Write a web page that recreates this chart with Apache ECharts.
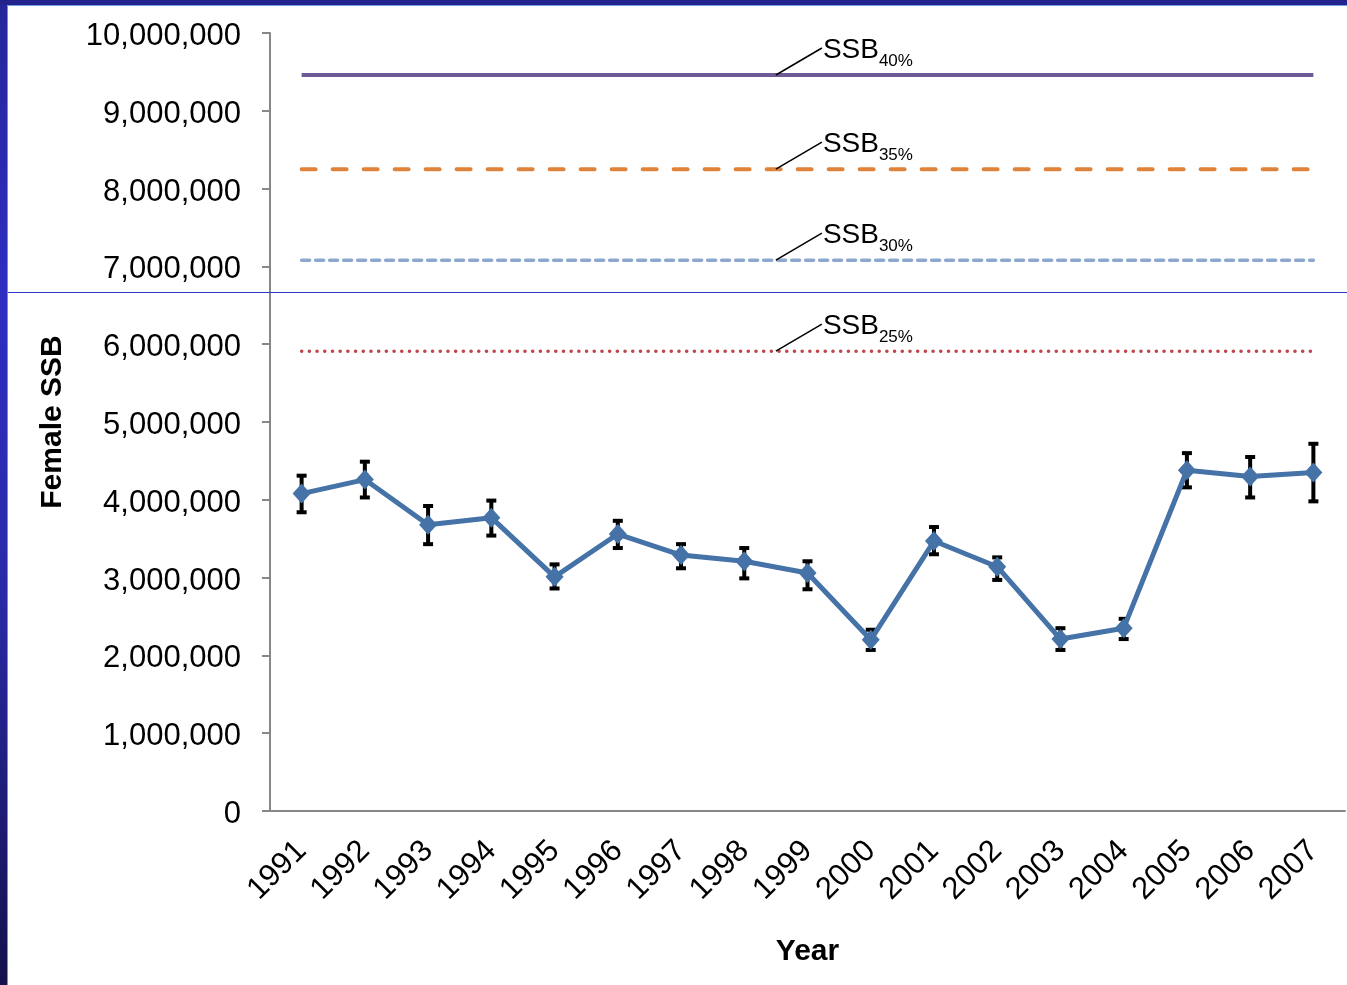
<!DOCTYPE html>
<html>
<head>
<meta charset="utf-8">
<script src="https://cdn.jsdelivr.net/npm/echarts@6/dist/echarts.min.js"></script>
<style>
html,body{margin:0;padding:0;background:#fff;}
#chart{width:1347px;height:985px;}
</style>
</head>
<body>
<div id="chart"></div>
<script>
const years = ['1991','1992','1993','1994','1995','1996','1997','1998','1999','2000','2001','2002','2003','2004','2005','2006','2007'];
const femaleSSB = [4080000, 4260000, 3680000, 3770000, 3010000, 3560000, 3290000, 3210000, 3060000, 2200000, 3470000, 3140000, 2210000, 2350000, 4380000, 4300000, 4350000];
const upperCI = [4310000, 4490000, 3920000, 3990000, 3170000, 3730000, 3430000, 3380000, 3210000, 2330000, 3650000, 3260000, 2350000, 2470000, 4600000, 4550000, 4720000];
const lowerCI = [3840000, 4030000, 3430000, 3540000, 2860000, 3380000, 3120000, 2990000, 2850000, 2070000, 3300000, 2970000, 2070000, 2210000, 4160000, 4030000, 3980000];
const refNames = ['40%', '35%', '30%', '25%'];
const refLevels = [9460000, 8250000, 7080000, 5910000];
const yTicks = [0, 1000000, 2000000, 3000000, 4000000, 5000000, 6000000, 7000000, 8000000, 9000000, 10000000];

const FONT = '"Liberation Sans", Arial, sans-serif';
const refStyles = [
  {color:'#6d5a97', width:4, type:'solid', cap:'butt'},
  {color:'#e0833a', width:4, type:[14,17], cap:'round'},
  {color:'#8ea7cf', width:3.5, type:[8,6], cap:'round'},
  {color:'#c0444c', width:3.5, type:[0.1,7.6], cap:'round'}
];

const chart = echarts.init(document.getElementById('chart'), null, {renderer:'canvas'});

const refSeries = refLevels.map((lv, k) => ({
  type:'line',
  name:'SSB' + refNames[k],
  data: years.map(() => lv),
  symbol:'none',
  silent:true,
  z:1,
  lineStyle:{color:refStyles[k].color, width:refStyles[k].width, type:refStyles[k].type, cap:refStyles[k].cap}
}));

const option = {
  backgroundColor:'#ffffff',
  animation:false,
  grid:{left:270, right:2, top:33, bottom:174, containLabel:false},
  xAxis:{
    type:'category',
    data:years,
    boundaryGap:true,
    name:'Year',
    nameLocation:'middle',
    nameGap:126,
    nameTextStyle:{fontFamily:FONT, fontSize:30, fontWeight:'bold', color:'#000'},
    axisLine:{lineStyle:{color:'#878787', width:2}},
    axisTick:{show:false},
    axisLabel:{rotate:45, margin:35, fontFamily:FONT, fontSize:31, color:'#000', interval:0},
    splitLine:{show:false}
  },
  yAxis:{
    type:'value',
    min:0, max:10000000, interval:1000000,
    name:'Female SSB',
    nameLocation:'middle',
    nameGap:202,
    nameTextStyle:{fontFamily:FONT, fontSize:30, fontWeight:'bold', color:'#000'},
    axisLine:{show:true, lineStyle:{color:'#878787', width:2}},
    axisTick:{show:true, length:8, lineStyle:{color:'#878787', width:2}},
    axisLabel:{margin:29, fontFamily:FONT, fontSize:31, color:'#000',
      formatter: v => yTicks.indexOf(v) >= 0 ? '{a|' + v.toLocaleString('en-US') + '}' : '',
      rich:{a:{fontFamily:FONT, fontSize:31, color:'#000', padding:[7,0,0,0]}}},
    splitLine:{show:false}
  },
  series: refSeries.concat([
    {
      type:'custom',
      name:'CI',
      z:2,
      silent:true,
      data: years.map((y, i) => [i, lowerCI[i], upperCI[i]]),
      encode:{x:0, y:[1,2]},
      renderItem: function(params, api){
        const lo = api.coord([api.value(0), api.value(1)]);
        const hi = api.coord([api.value(0), api.value(2)]);
        const st = {stroke:'#000', lineWidth:4};
        return {type:'group', children:[
          {type:'line', shape:{x1:lo[0], y1:lo[1], x2:hi[0], y2:hi[1]}, style:st},
          {type:'line', shape:{x1:lo[0]-5, y1:lo[1], x2:lo[0]+5, y2:lo[1]}, style:st},
          {type:'line', shape:{x1:hi[0]-5, y1:hi[1], x2:hi[0]+5, y2:hi[1]}, style:st}
        ]};
      }
    },
    {
      type:'line',
      name:'Female SSB',
      z:3,
      data: femaleSSB,
      symbol:'diamond',
      symbolSize:[18,20],
      itemStyle:{color:'#4572a7'},
      lineStyle:{color:'#4572a7', width:5}
    }
  ])
};
chart.setOption(option);

const graphics = [
  {type:'rect', silent:true, z:100, shape:{x:0, y:0, width:7, height:985},
    style:{fill:new echarts.graphic.LinearGradient(0,0,0,1,[
      {offset:0, color:'#26269a'},{offset:0.3, color:'#2e2ec2'},{offset:0.6, color:'#2a2aa8'},{offset:1, color:'#14114c'}])}},
  {type:'rect', silent:true, z:100, shape:{x:7, y:0, width:1, height:985}, style:{fill:'#6b8fd6'}},
  {type:'rect', silent:true, z:101, shape:{x:0, y:0, width:1347, height:5}, style:{fill:'#22238c'}},
  {type:'rect', silent:true, z:101, shape:{x:7, y:5, width:1340, height:1}, style:{fill:'#72a2e2'}},
  {type:'rect', silent:true, z:100, shape:{x:8, y:292, width:1339, height:1}, style:{fill:'#2f36c8'}}
];

refLevels.forEach((lv, k) => {
  const pA = chart.convertToPixel({xAxisIndex:0, yAxisIndex:0}, [7, lv]);
  const pB = chart.convertToPixel({xAxisIndex:0, yAxisIndex:0}, [8, lv]);
  const x0 = (pA[0] + pB[0]) / 2;
  const y0 = pA[1];
  graphics.push({type:'line', silent:true, z:50, shape:{x1:x0, y1:y0, x2:x0+46, y2:y0-27},
    style:{stroke:'#000', lineWidth:1.5}});
  graphics.push({type:'text', silent:true, z:50, style:{text:'SSB', x:x0+47, y:y0-25,
    font:'28px ' + FONT, fill:'#000', textAlign:'left', textVerticalAlign:'middle', align:'left', verticalAlign:'middle'}});
  graphics.push({type:'text', silent:true, z:50, style:{text:refNames[k], x:x0+103, y:y0-13.5,
    font:'17px ' + FONT, fill:'#000', textAlign:'left', textVerticalAlign:'middle', align:'left', verticalAlign:'middle'}});
});

chart.setOption({graphic:{elements:graphics}});
</script>
</body>
</html>
